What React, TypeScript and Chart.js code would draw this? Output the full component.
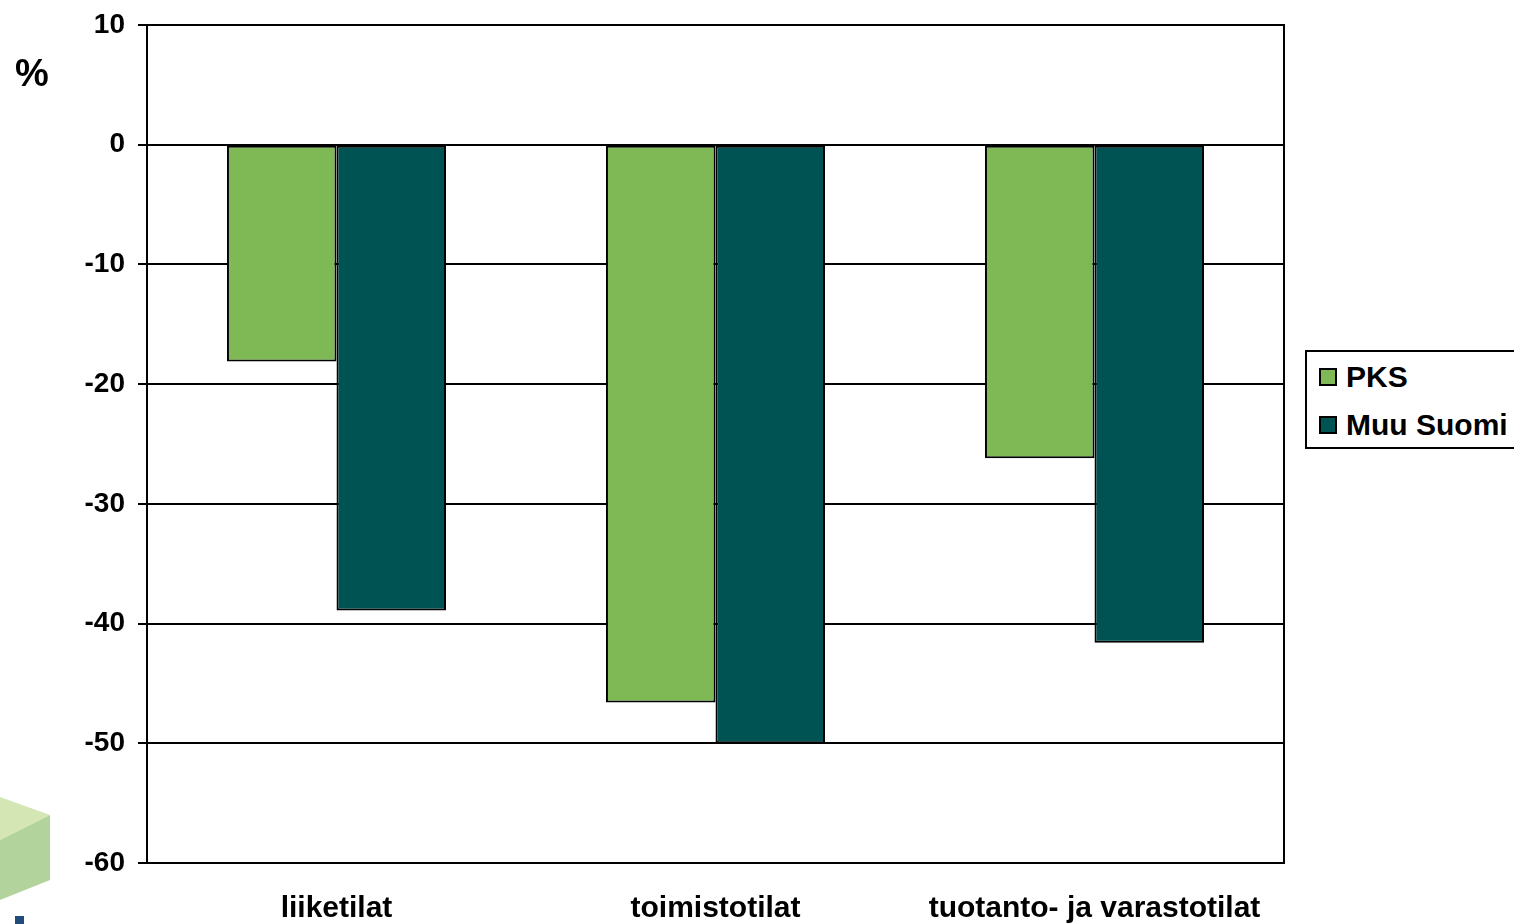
import React, { useEffect, useRef } from "react";
import { Chart, registerables } from "chart.js";

Chart.register(...registerables);

const categories = ["liiketilat", "toimistotilat", "tuotanto- ja varastotilat"];
const seriesNames = ["PKS", "Muu Suomi"];
const pksValues = [-18.1, -46.6, -26.2];
const muuSuomiValues = [-38.9, -50.0, -41.6];
const yTicks = [10, 0, -10, -20, -30, -40, -50, -60];
const seriesColors = ["#7FB955", "#005353"];

const FONT = "'Liberation Sans', Arial, sans-serif";

// Frame around the plot area, the "%" unit label and the corner emblem.
const decorPlugin = {
  id: "decor",
  beforeDraw(chart: any) {
    const ctx = chart.ctx;
    ctx.save();
    // emblem: light green cube corner
    ctx.fillStyle = "#D3E6B4";
    ctx.beginPath();
    ctx.moveTo(0, 797);
    ctx.lineTo(50, 815);
    ctx.lineTo(0, 840);
    ctx.closePath();
    ctx.fill();
    ctx.fillStyle = "#B2D49C";
    ctx.beginPath();
    ctx.moveTo(0, 840);
    ctx.lineTo(50, 815);
    ctx.lineTo(50, 880);
    ctx.lineTo(0, 900);
    ctx.closePath();
    ctx.fill();
    ctx.fillStyle = "#1F4C7A";
    ctx.fillRect(15, 916, 9, 8);
    ctx.restore();
  },
  afterDraw(chart: any) {
    const { ctx, chartArea } = chart;
    ctx.save();
    ctx.strokeStyle = "#000";
    ctx.lineWidth = 2;
    ctx.strokeRect(chartArea.left, chartArea.top, chartArea.right - chartArea.left, chartArea.bottom - chartArea.top);
    ctx.fillStyle = "#000";
    ctx.font = `bold 38px ${FONT}`;
    ctx.textAlign = "center";
    ctx.textBaseline = "middle";
    ctx.fillText("%", 32, 76);
    ctx.restore();
  },
};

export default function App() {
  const canvasRef = useRef<HTMLCanvasElement | null>(null);

  useEffect(() => {
    document.body.style.margin = "0";
    const canvas = canvasRef.current;
    if (!canvas) return;
    const chart = new Chart(canvas, {
      type: "bar",
      data: {
        labels: categories,
        datasets: [
          {
            label: seriesNames[0],
            data: pksValues,
            backgroundColor: seriesColors[0],
            borderColor: "#000",
            borderWidth: 2,
            borderSkipped: false,
          },
          {
            label: seriesNames[1],
            data: muuSuomiValues,
            backgroundColor: seriesColors[1],
            borderColor: "#000",
            borderWidth: 2,
            borderSkipped: false,
          },
        ],
      },
      options: {
        animation: false,
        responsive: false,
        maintainAspectRatio: false,
        layout: { padding: { left: 0, right: 230, top: 25, bottom: 0 } },
        datasets: { bar: { categoryPercentage: 0.578, barPercentage: 1 } },
        plugins: { legend: { display: false }, tooltip: { enabled: false } },
        scales: {
          x: {
            grid: { display: false, drawTicks: false },
            border: { display: false },
            ticks: {
              color: "#000",
              font: { family: FONT, size: 30, weight: "bold" },
              padding: 28,
              maxRotation: 0,
              autoSkip: false,
            },
            afterFit(scale: any) {
              scale.height = 61;
              scale.paddingLeft = 0;
              scale.paddingRight = 0;
            },
          },
          y: {
            min: -60,
            max: 10,
            afterBuildTicks(scale: any) {
              scale.ticks = yTicks.map((v) => ({ value: v }));
            },
            grid: { color: "#000", lineWidth: 2, drawTicks: true, tickLength: 9, tickColor: "#000" },
            border: { display: false },
            ticks: {
              color: "#000",
              font: { family: FONT, size: 28, weight: "bold" },
              padding: 13,
            },
            afterFit(scale: any) {
              scale.width = 147;
              scale.paddingTop = 0;
              scale.paddingBottom = 0;
            },
          },
        },
      },
      plugins: [decorPlugin],
    } as any);
    return () => chart.destroy();
  }, []);

  const legendItem = (name: string, color: string, top: number) => (
    <div
      key={name}
      style={{
        position: "absolute",
        left: 12,
        top,
        display: "flex",
        alignItems: "center",
        fontFamily: FONT,
        fontWeight: "bold",
        fontSize: 30,
        color: "#000",
        whiteSpace: "nowrap",
      }}
    >
      <span
        style={{
          display: "inline-block",
          width: 14,
          height: 14,
          background: color,
          border: "2px solid #000",
          marginRight: 9,
        }}
      />
      {name}
    </div>
  );

  return (
    <div style={{ position: "relative", width: 1514, height: 924, overflow: "hidden", background: "#fff" }}>
      <canvas ref={canvasRef} width={1514} height={924} style={{ display: "block" }} />
      <div
        style={{
          position: "absolute",
          left: 1305,
          top: 350,
          width: 220,
          height: 95,
          border: "2px solid #000",
          background: "#fff",
        }}
      >
        {legendItem(seriesNames[0], seriesColors[0], 8)}
        {legendItem(seriesNames[1], seriesColors[1], 56)}
      </div>
    </div>
  );
}
